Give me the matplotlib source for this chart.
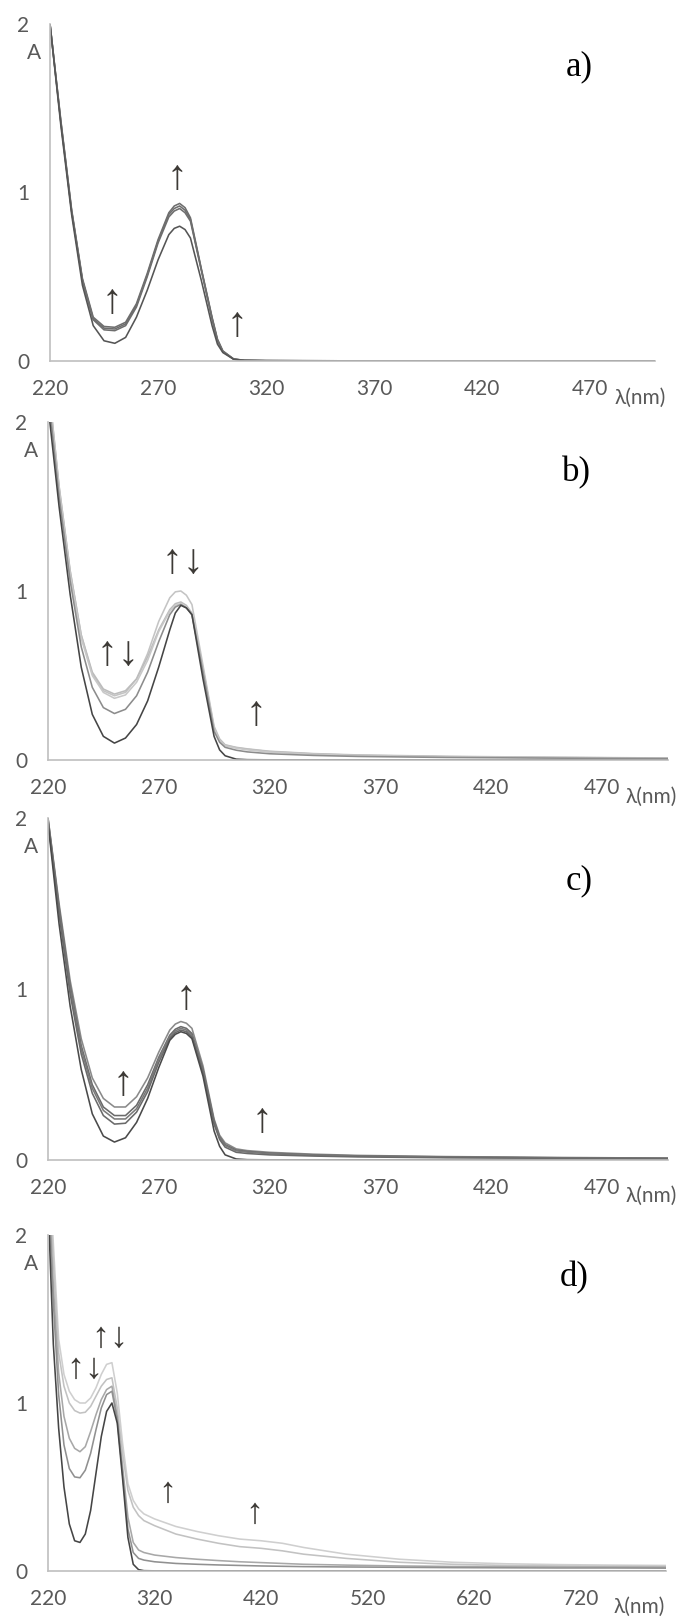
import matplotlib
matplotlib.use('Agg')
import matplotlib.pyplot as plt

# wavelength grids (nm)
wl_abc = [220, 225, 230, 235, 240, 245, 250, 255, 260, 265, 270, 275, 277.5, 280, 282.5, 285, 290, 295,
	297.5, 300, 305, 310, 320, 340, 360, 400, 450, 500]
wl_d = [220, 225, 230, 235, 240, 245, 250, 255, 260, 265, 270, 275, 280, 285, 290, 295,
	300, 305, 310, 320, 340, 360, 380, 400, 420, 440, 460, 500, 550, 600, 650, 700, 750, 800]

# panel a) absorbance
a_curves = [
	[2.00, 1.43, 0.90, 0.49, 0.26, 0.205, 0.20, 0.23, 0.34, 0.52, 0.72, 0.88, 0.92, 0.935, 0.91, 0.85, 0.55, 0.26, 0.13, 0.06, 0.012, 0.004, 0.002, 0.0015, 0.001, 0.001, 0.001, 0.001],
	[2.00, 1.42, 0.89, 0.48, 0.25, 0.195, 0.19, 0.22, 0.33, 0.51, 0.71, 0.87, 0.905, 0.92, 0.895, 0.84, 0.545, 0.255, 0.125, 0.058, 0.011, 0.004, 0.002, 0.0015, 0.001, 0.001, 0.001, 0.001],
	[2.00, 1.42, 0.89, 0.48, 0.245, 0.185, 0.18, 0.21, 0.32, 0.50, 0.70, 0.855, 0.89, 0.905, 0.88, 0.83, 0.54, 0.25, 0.12, 0.055, 0.011, 0.004, 0.002, 0.0015, 0.001, 0.001, 0.001, 0.001],
	[2.00, 1.40, 0.87, 0.45, 0.21, 0.12, 0.105, 0.14, 0.26, 0.42, 0.60, 0.75, 0.787, 0.80, 0.78, 0.73, 0.48, 0.21, 0.10, 0.05, 0.01, 0.003, 0.002, 0.001, 0.001, 0.001, 0.001, 0.001],
]
a_colors = ['#6e6e6e', '#6e6e6e', '#6e6e6e', '#555555']

# panel b)
b_curves = [
	[2.25, 1.62, 1.12, 0.74, 0.51, 0.41, 0.38, 0.40, 0.48, 0.63, 0.82, 0.96, 0.995, 1.00, 0.975, 0.92, 0.56, 0.20, 0.125, 0.09, 0.075, 0.066, 0.052, 0.038, 0.030, 0.022, 0.016, 0.012],
	[2.25, 1.62, 1.12, 0.74, 0.52, 0.42, 0.39, 0.41, 0.48, 0.61, 0.77, 0.89, 0.925, 0.935, 0.915, 0.87, 0.54, 0.19, 0.12, 0.088, 0.073, 0.064, 0.050, 0.036, 0.028, 0.020, 0.015, 0.011],
	[2.22, 1.60, 1.10, 0.72, 0.50, 0.40, 0.365, 0.385, 0.46, 0.59, 0.76, 0.88, 0.915, 0.925, 0.905, 0.86, 0.53, 0.185, 0.115, 0.085, 0.07, 0.060, 0.047, 0.034, 0.026, 0.019, 0.014, 0.010],
	[2.18, 1.56, 1.06, 0.67, 0.43, 0.31, 0.275, 0.30, 0.38, 0.52, 0.70, 0.86, 0.905, 0.92, 0.90, 0.86, 0.52, 0.17, 0.105, 0.075, 0.058, 0.048, 0.037, 0.027, 0.021, 0.015, 0.011, 0.008],
	[2.10, 1.50, 0.98, 0.55, 0.27, 0.14, 0.10, 0.13, 0.21, 0.35, 0.55, 0.77, 0.87, 0.915, 0.90, 0.86, 0.48, 0.14, 0.06, 0.025, 0.005, 0.002, 0.001, 0.001, 0.001, 0.001, 0.001, 0.001],
]
b_colors = ['#c4c4c4', '#bcbcbc', '#c8c8c8', '#8c8c8c', '#454545']

# panel c)
c_curves = [
	[2.00, 1.50, 1.05, 0.71, 0.48, 0.36, 0.31, 0.31, 0.37, 0.48, 0.63, 0.76, 0.795, 0.81, 0.80, 0.77, 0.55, 0.24, 0.145, 0.10, 0.065, 0.055, 0.045, 0.034, 0.027, 0.020, 0.015, 0.011],
	[2.00, 1.48, 1.02, 0.67, 0.44, 0.31, 0.26, 0.26, 0.32, 0.44, 0.60, 0.73, 0.765, 0.78, 0.77, 0.74, 0.53, 0.23, 0.135, 0.09, 0.058, 0.050, 0.040, 0.030, 0.024, 0.018, 0.013, 0.010],
	[1.99, 1.46, 1.00, 0.65, 0.42, 0.29, 0.24, 0.24, 0.30, 0.42, 0.59, 0.72, 0.755, 0.77, 0.76, 0.73, 0.52, 0.22, 0.13, 0.085, 0.054, 0.046, 0.037, 0.028, 0.022, 0.016, 0.012, 0.009],
	[1.98, 1.44, 0.97, 0.62, 0.39, 0.26, 0.21, 0.215, 0.28, 0.40, 0.57, 0.71, 0.745, 0.76, 0.75, 0.72, 0.51, 0.21, 0.12, 0.075, 0.045, 0.038, 0.030, 0.023, 0.018, 0.013, 0.010, 0.008],
	[1.97, 1.38, 0.90, 0.53, 0.27, 0.14, 0.105, 0.13, 0.22, 0.36, 0.54, 0.70, 0.735, 0.75, 0.74, 0.71, 0.49, 0.17, 0.08, 0.03, 0.006, 0.002, 0.001, 0.001, 0.001, 0.001, 0.001, 0.001],
]
c_colors = ['#8a8a8a', '#6a6a6a', '#7a7a7a', '#6a6a6a', '#4a4a4a']

# panel d)
d_curves = [
	[2.60, 1.95, 1.38, 1.17, 1.07, 1.02, 1.00, 1.00, 1.03, 1.09, 1.17, 1.23, 1.24, 1.06, 0.76, 0.52, 0.42, 0.37, 0.34, 0.31, 0.265, 0.235, 0.21, 0.19, 0.18, 0.165, 0.14, 0.10, 0.07, 0.052, 0.043, 0.038, 0.035, 0.033],
	[2.50, 1.85, 1.30, 1.10, 1.00, 0.955, 0.94, 0.945, 0.98, 1.04, 1.10, 1.14, 1.15, 0.97, 0.70, 0.48, 0.38, 0.33, 0.30, 0.27, 0.22, 0.19, 0.165, 0.145, 0.135, 0.12, 0.10, 0.075, 0.052, 0.04, 0.033, 0.03, 0.028, 0.026],
	[2.40, 1.70, 1.18, 0.92, 0.79, 0.73, 0.71, 0.74, 0.83, 0.93, 1.02, 1.08, 1.10, 0.92, 0.62, 0.32, 0.17, 0.125, 0.11, 0.095, 0.08, 0.07, 0.062, 0.055, 0.05, 0.045, 0.04, 0.035, 0.03, 0.027, 0.025, 0.024, 0.023, 0.022],
	[2.30, 1.60, 1.05, 0.75, 0.61, 0.56, 0.555, 0.60, 0.70, 0.84, 0.97, 1.05, 1.07, 0.90, 0.58, 0.25, 0.11, 0.075, 0.065, 0.055, 0.045, 0.04, 0.036, 0.033, 0.03, 0.028, 0.026, 0.024, 0.022, 0.02, 0.019, 0.018, 0.018, 0.017],
	[2.20, 1.35, 0.85, 0.50, 0.28, 0.18, 0.17, 0.22, 0.36, 0.58, 0.80, 0.95, 1.00, 0.88, 0.55, 0.20, 0.04, 0.008, 0.002, 0.001, 0.001, 0.001, 0.001, 0.001, 0.001, 0.001, 0.001, 0.001, 0.001, 0.001, 0.001, 0.001, 0.001, 0.001],
]
d_colors = ['#cfcfcf', '#c2c2c2', '#a8a8a8', '#909090', '#454545']

ticks_abc = [220, 270, 320, 370, 420, 470]
ticks_d = [220, 320, 420, 520, 620, 720]

# arrow annotations (wavelength, absorbance, text)
a_marks = [(248.7, 0.35, '↑'), (278.8, 1.086, '↑'), (306.6, 0.214, '↑')]
b_marks = [(251.4, 0.627, '↑↓'), (280.9, 1.17, '↑↓'), (314.0, 0.272, '↑')]
c_marks = [(254.0, 0.444, '↑'), (282.3, 0.947, '↑'), (316.4, 0.228, '↑')]
d_marks = [(253.8, 1.208, '↑↓'), (277.3, 1.393, '↑↓'), (331.7, 0.47, '↑'), (413.4, 0.34, '↑')]

W, H = 686, 1620
TEXT_GREY = '#595959'
AXIS_GREY = '#bfbfbf'
ARROW = '#3d3a36'
ARROW_FONT = ['Liberation Sans', 'DejaVu Sans']


def px_axes(fig, left, right, bottom, top):
	""" Adds an axes given pixel edges (top-down y). """
	return fig.add_axes([left / W, 1 - bottom / H, (right - left) / W, (bottom - top) / H])


def draw_marks(ax, marks, pair_gap, size):
	""" Draws the up/down arrows; a pair is split so the two glyphs sit close together. """
	for x, y, s in marks:
		if len(s) == 1:
			ax.text(x, y, s, ha = 'center', va = 'center', fontsize = size, color = ARROW, family = ARROW_FONT)
			continue
		for glyph, dx in zip(s, (-pair_gap / 2, pair_gap / 2)):
			ax.annotate(glyph, (x, y), xytext = (dx * 0.72, 0), textcoords = 'offset points',
				ha = 'center', va = 'center', fontsize = size, color = ARROW, family = ARROW_FONT)


def format_panel(ax, x_max, ticks):
	for side in ['top', 'right']:
		ax.spines[side].set_visible(False)
	for side in ['left', 'bottom']:
		ax.spines[side].set_color(AXIS_GREY)
		ax.spines[side].set_linewidth(1.2)
	ax.set_xlim(220, x_max)
	ax.set_ylim(0, 2)
	ax.set_xticks(ticks)
	ax.set_yticks([0, 1, 2])
	ax.tick_params(axis = 'x', length = 0, pad = 13, labelsize = 15, labelcolor = TEXT_GREY)
	ax.tick_params(axis = 'y', length = 0, pad = 15, labelsize = 15, labelcolor = TEXT_GREY)
	for lab in ax.get_xticklabels() + ax.get_yticklabels():
		lab.set_fontfamily('Lato')
	ax.text(-0.027, 0.915, 'A', transform = ax.transAxes, ha = 'center', va = 'center',
		fontsize = 15, color = TEXT_GREY, family = 'Lato')
	ax.set_facecolor('none')


fig = plt.figure(figsize = (W / 100, H / 100), dpi = 100)

panels = [
	(wl_abc, a_curves, a_colors, a_marks, 21, 30, 500, ticks_abc, (50, 655, 361, 24), 'a)', (579, 67), (640, 398)),
	(wl_abc, b_curves, b_colors, b_marks, 21, 30, 500, ticks_abc, (48, 668, 760, 422), 'b)', (576, 473), (651, 797)),
	(wl_abc, c_curves, c_colors, c_marks, 21, 30, 500, ticks_abc, (48, 668, 1160, 818), 'c)', (579, 881), (651, 1196)),
	(wl_d, d_curves, d_colors, d_marks, 18, 26, 800, ticks_d, (48, 666, 1571, 1235), 'd)', (574, 1278), (639, 1607)),
]

for wl, curves, colors, marks, gap, size, x_max, ticks, box, tag, tag_pos, lam_pos in panels:
	ax = px_axes(fig, *box)
	for y, color in zip(curves, colors):
		ax.plot(wl, y, color = color, lw = 1.15, solid_joinstyle = 'round')
	draw_marks(ax, marks, gap, size)
	format_panel(ax, x_max, ticks)
	fig.text(tag_pos[0] / W, 1 - tag_pos[1] / H, tag, ha = 'center', va = 'center',
		fontsize = 25, family = 'Liberation Serif', color = 'black')
	fig.text(lam_pos[0] / W, 1 - lam_pos[1] / H, 'λ(nm)', ha = 'center', va = 'center',
		fontsize = 15, family = ['Lato', 'DejaVu Sans'], color = TEXT_GREY)

fig.savefig('out.png', dpi = 100, facecolor = 'white')
